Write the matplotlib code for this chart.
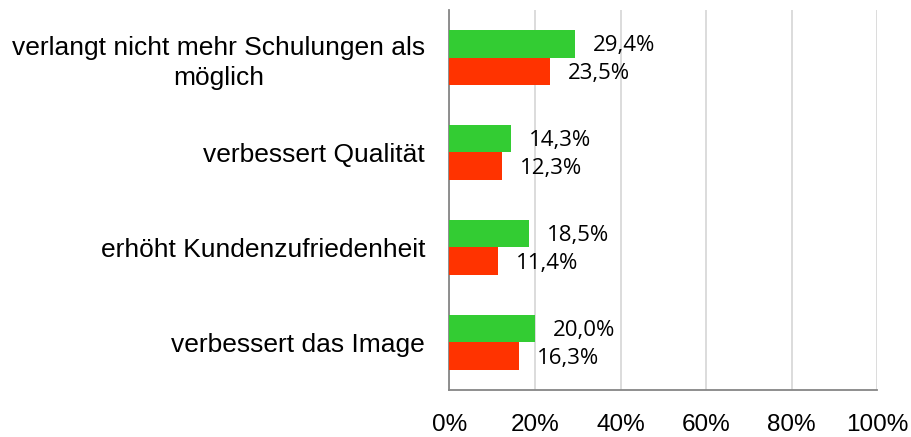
import matplotlib.pyplot as plt
import numpy as np

# categories top to bottom
categories = ['verlangt nicht mehr Schulungen als\nmöglich',
              'verbessert Qualität',
              'erhöht Kundenzufriedenheit',
              'verbessert das Image']
green_vals = [29.4, 14.3, 18.5, 20.0]
red_vals = [23.5, 12.3, 11.4, 16.3]
x_ticks = [0, 20, 40, 60, 80, 100]
x_tick_labels = ['0%', '20%', '40%', '60%', '80%', '100%']

green = '#33CC33'
red = '#FF3300'

fig = plt.figure(figsize=(9.11, 4.37), dpi=100)
ax = fig.add_axes([0.4934, 0.1076, 0.9627 - 0.4934, 0.9771 - 0.1076])

n = len(categories)
y = np.arange(n)[::-1].astype(float)
h = 0.285

ax.barh(y + h / 2, green_vals, height=h, color=green, zorder=3)
ax.barh(y - h / 2, red_vals, height=h, color=red, zorder=3)

for yi, g, r in zip(y, green_vals, red_vals):
    ax.annotate(f'{g:.1f}%'.replace('.', ','), (g, yi + h / 2), xytext=(13, -1),
                textcoords='offset points', ha='left', va='center',
                fontsize=16, family='Open Sans', color='black')
    ax.annotate(f'{r:.1f}%'.replace('.', ','), (r, yi - h / 2), xytext=(13, -2),
                textcoords='offset points', ha='left', va='center',
                fontsize=16, family='Open Sans', color='black')

ax.set_xlim(0, 100)
ax.set_ylim(-0.5, n - 0.5)
ax.set_xticks(x_ticks)
ax.set_xticklabels(x_tick_labels, fontsize=17.5, family='Liberation Sans')
ax.set_yticks(y)
ax.set_yticklabels(categories, fontsize=19, family='Liberation Sans',
                   linespacing=1.3)
for lab in ax.get_yticklabels():
    lab.set_multialignment('center')

ax.tick_params(axis='x', length=0, pad=17)
ax.tick_params(axis='y', length=0, pad=17.5)

ax.grid(axis='x', color='#D9D9D9', linewidth=1.3, zorder=0)
for s in ['top', 'right']:
    ax.spines[s].set_visible(False)
ax.spines['left'].set_color('#868686')
ax.spines['left'].set_linewidth(1.3)
ax.spines['bottom'].set_color('#868686')
ax.spines['bottom'].set_linewidth(1.3)

fig.savefig('out.png', dpi=100)
